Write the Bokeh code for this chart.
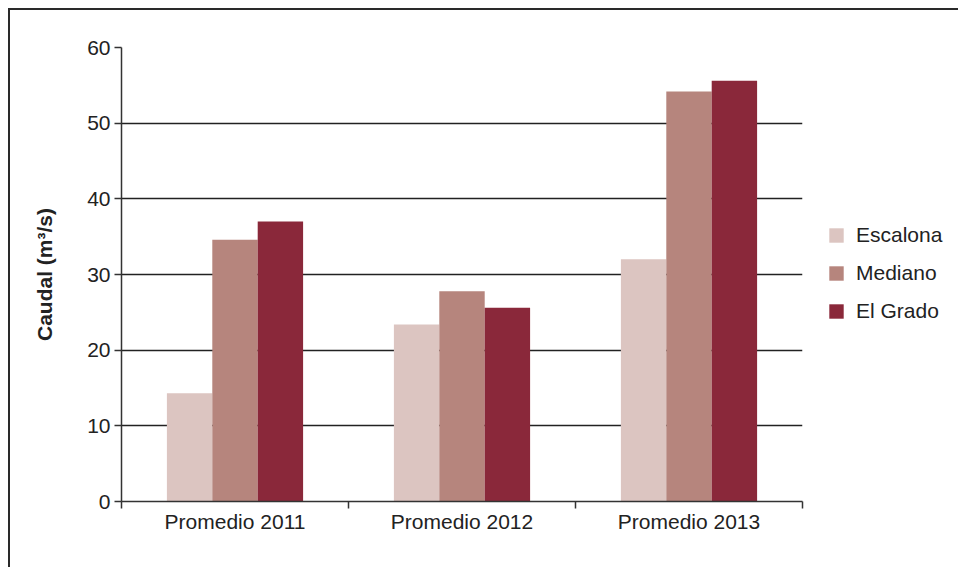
from bokeh.plotting import figure
from bokeh.models import ColumnDataSource, FixedTicker, Legend, LegendItem, Range1d
from bokeh.transform import dodge
from bokeh.embed import file_html
from bokeh.resources import INLINE

categories = ["Promedio 2011", "Promedio 2012", "Promedio 2013"]
escalona = [14.3, 23.4, 32.0]
mediano = [34.6, 27.8, 54.2]
el_grado = [37.0, 25.6, 55.6]
series_names = ["Escalona", "Mediano", "El Grado"]
colors = ["#DCC5C1", "#B6857D", "#8A283A"]
y_ticks = [0, 10, 20, 30, 40, 50, 60]

x_pos = [i + 0.5 for i in range(len(categories))]
source = ColumnDataSource(dict(x=x_pos, Escalona=escalona, Mediano=mediano, El_Grado=el_grado))

FONT = "Liberation Sans"
TXT = "#222222"
FS = "21px"

p = figure(frame_width=681, frame_height=454, output_backend="svg", toolbar_location=None,
           x_range=Range1d(0, len(categories)), y_range=Range1d(0, 60),
           min_border_left=111, min_border_right=146, min_border_top=37, min_border_bottom=66)
p.outline_line_color = None
p.styles = {"border-top": "2px solid #2a2a2a", "border-left": "2px solid #2a2a2a",
            "margin-left": "8px", "margin-top": "8px"}

renderers = []
cols = ["Escalona", "Mediano", "El_Grado"]
offsets = [-0.2, 0.0, 0.2]
for col, off, c in zip(cols, offsets, colors):
    r = p.vbar(x=dodge("x", off, range=p.x_range), top=col, width=0.2, source=source,
               fill_color=c, line_color=None)
    renderers.append(r)

# axes
p.xaxis.ticker = FixedTicker(ticks=x_pos, minor_ticks=list(range(len(categories) + 1)))
p.xaxis.major_label_overrides = {x: c for x, c in zip(x_pos, categories)}
p.xaxis.major_tick_out = 0
p.xaxis.major_tick_in = 0
p.xaxis.minor_tick_out = 7
p.xaxis.minor_tick_in = 0
p.xaxis.minor_tick_line_color = "#333333"
p.xaxis.minor_tick_line_width = 1.5
p.xaxis.major_label_standoff = 1

p.yaxis.ticker = FixedTicker(ticks=y_ticks)
p.yaxis.major_tick_out = 7
p.yaxis.major_tick_in = 0
p.yaxis.minor_tick_line_color = None
p.yaxis.major_label_standoff = 4
p.yaxis.axis_label = "Caudal (m³/s)"
p.yaxis.axis_label_text_font_style = "bold"
p.yaxis.axis_label_text_font_size = FS
p.yaxis.axis_label_text_font = FONT
p.yaxis.axis_label_text_color = TXT
p.yaxis.axis_label_standoff = 28

for ax in (p.xaxis, p.yaxis):
    ax.axis_line_color = "#333333"
    ax.axis_line_width = 1.5
    ax.major_tick_line_color = "#333333"
    ax.major_tick_line_width = 1.5
    ax.major_label_text_font = FONT
    ax.major_label_text_font_size = FS
    ax.major_label_text_color = TXT

p.xgrid.grid_line_color = None
p.ygrid.ticker = FixedTicker(ticks=y_ticks[1:])
p.ygrid.grid_line_color = "#222222"
p.ygrid.grid_line_width = 1.5

legend = Legend(items=[LegendItem(label=n, renderers=[r]) for n, r in zip(series_names, renderers)],
                location=(25, 178), padding=0, margin=0, spacing=14,
                glyph_width=18, glyph_height=18, label_height=18, label_standoff=11,
                label_text_font=FONT, label_text_font_size=FS, label_text_color=TXT,
                border_line_color=None, background_fill_alpha=0)
p.add_layout(legend, "right")

open("out.html", "w").write(file_html(p, INLINE))
